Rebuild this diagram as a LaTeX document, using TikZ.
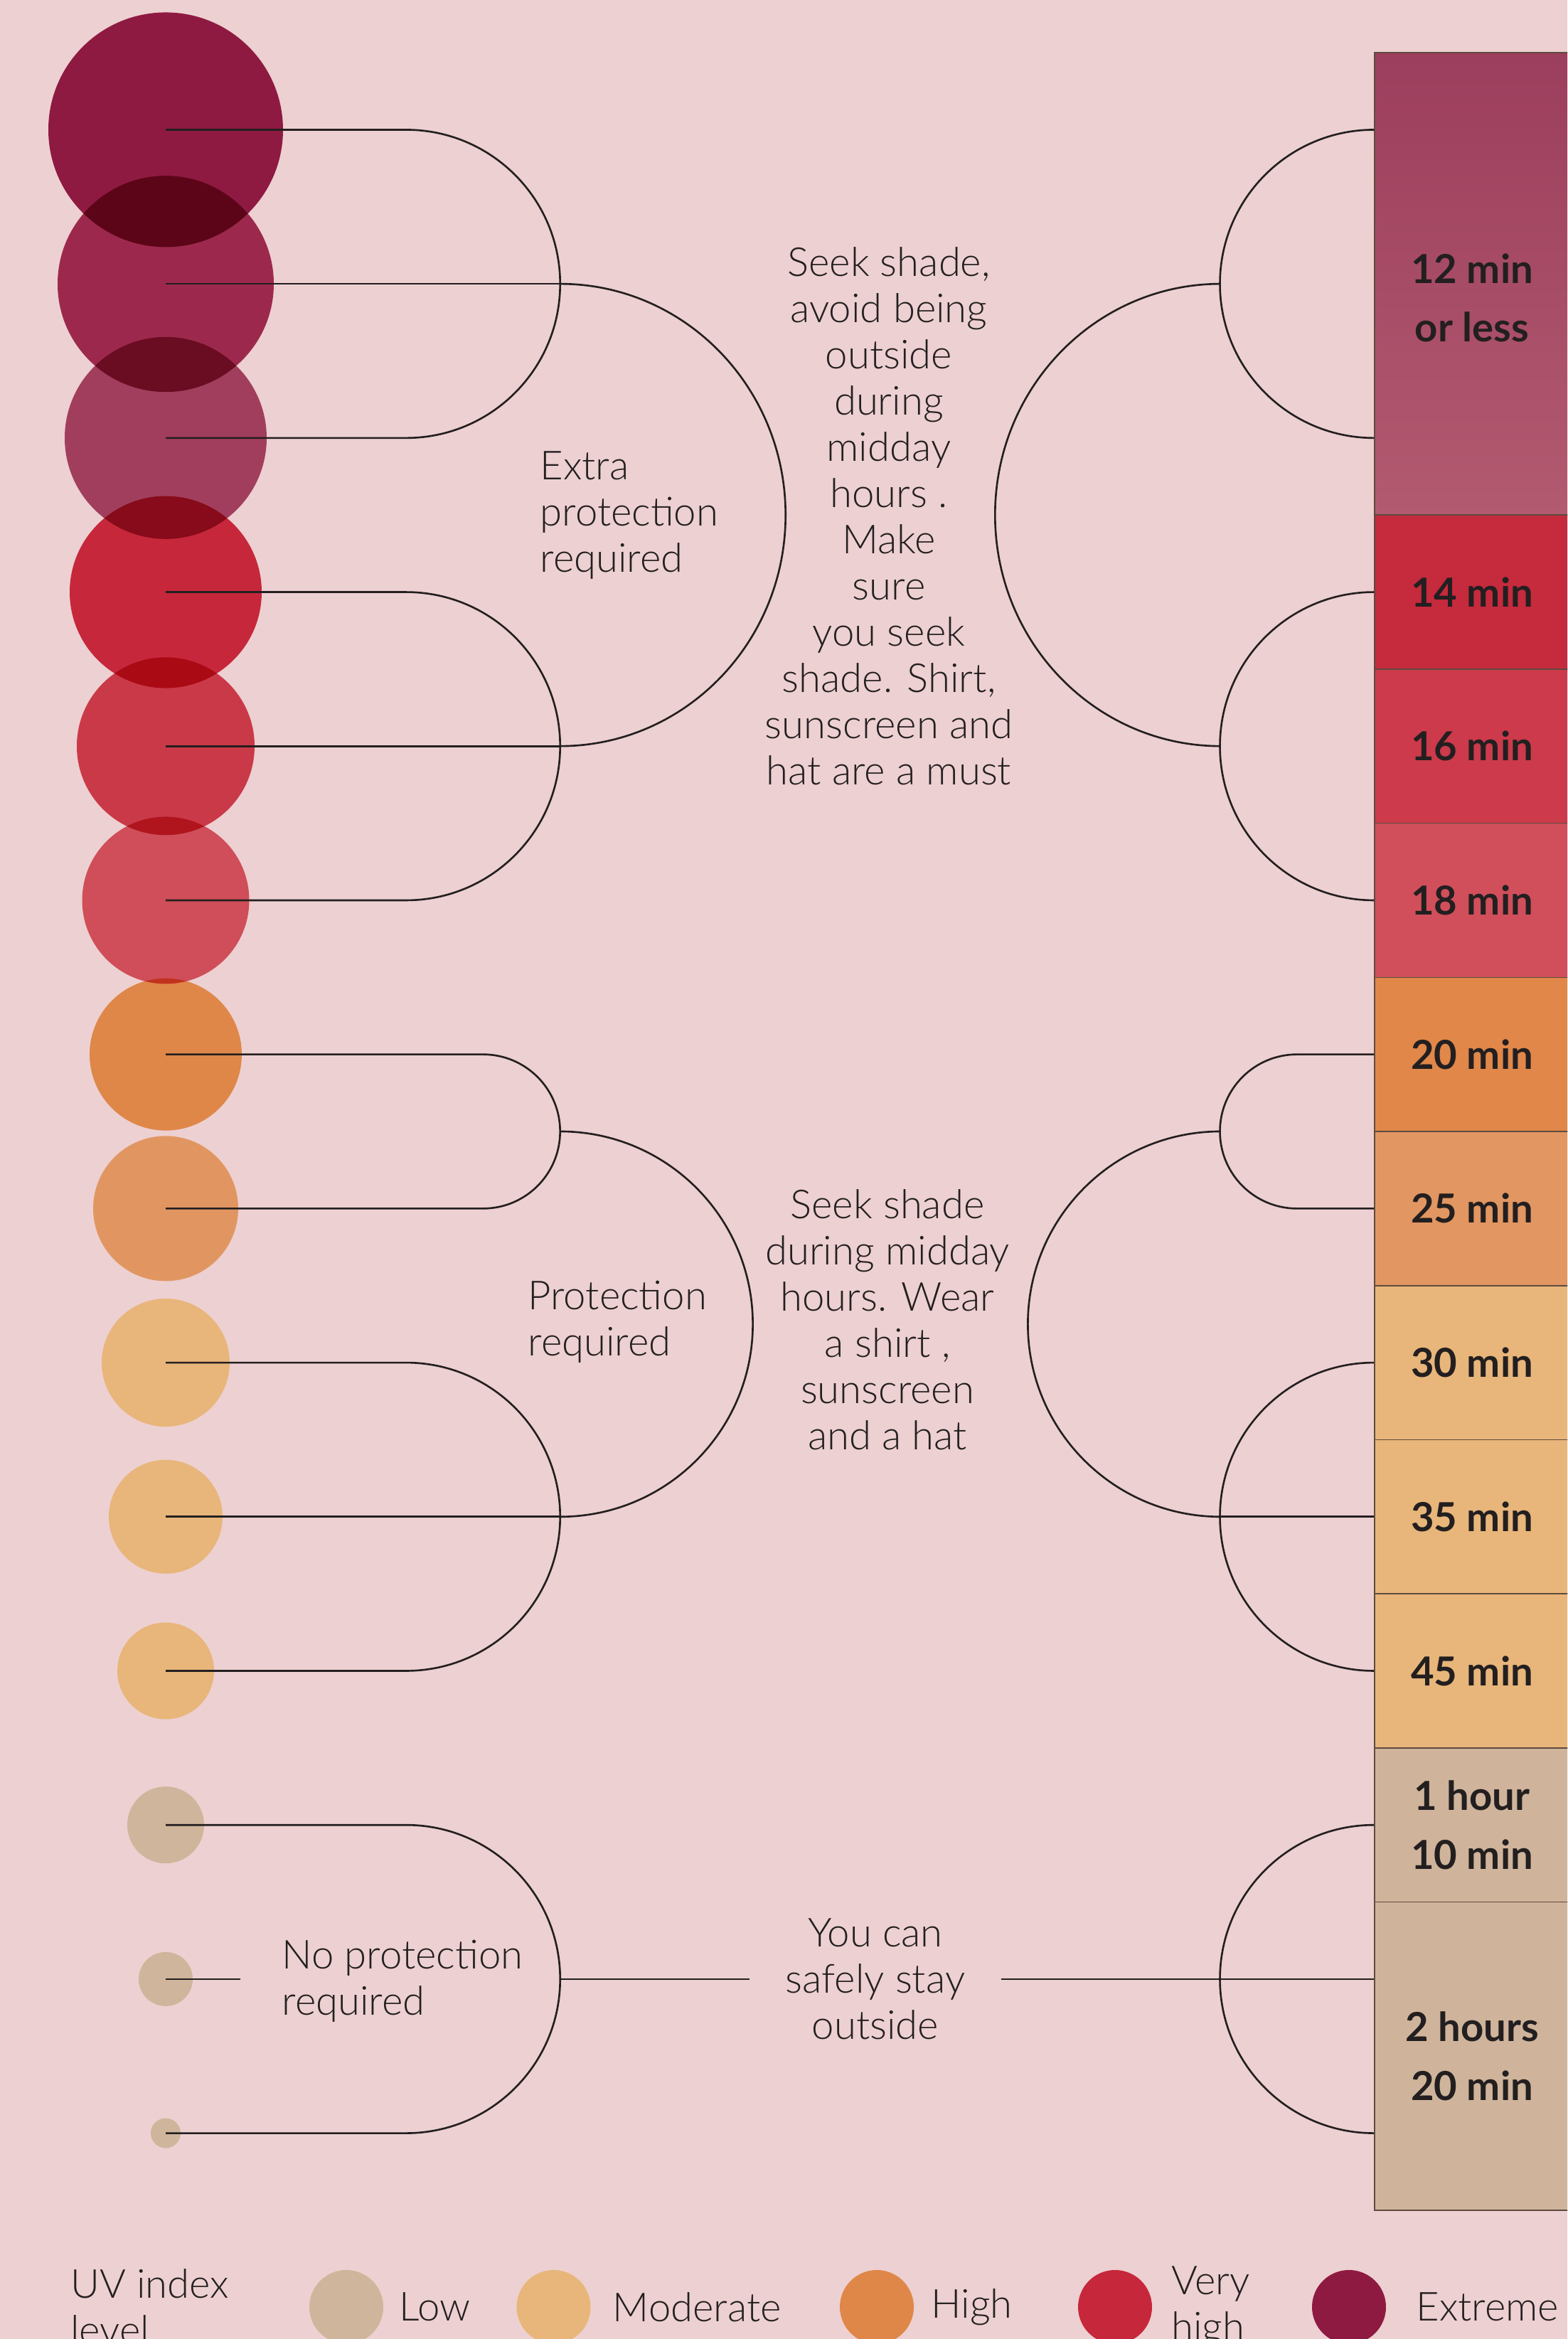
\documentclass[tikz,border=0pt]{standalone}
\usepackage{fontspec}
\setmainfont{Lato}[UprightFont=* Light, BoldFont=* Bold]
\usetikzlibrary{positioning}

\definecolor{paper}{HTML}{EDD0D1}
\definecolor{ink}{HTML}{231F20}
\definecolor{rim}{HTML}{5E4B3F}
% circle inks, multiplied onto the paper
\definecolor{uvx0}{RGB}{153,32,81}
\definecolor{uvx1}{RGB}{168,51,95}
\definecolor{uvx2}{RGB}{174,77,114}
\definecolor{uvv0}{RGB}{214,49,73}
\definecolor{uvv1}{RGB}{218,70,89}
\definecolor{uvv2}{RGB}{223,96,109}
\definecolor{uvh0}{RGB}{241,166,90}
\definecolor{uvh1}{RGB}{243,184,120}
\definecolor{uvm}{RGB}{250,224,149}
\definecolor{uvl}{RGB}{223,222,190}
% bar cells
\definecolor{barxtop}{HTML}{9C3E5D}
\definecolor{barxbot}{HTML}{B25A70}
\definecolor{barv0}{HTML}{C62A3D}
\definecolor{barv1}{HTML}{CC3A4B}
\definecolor{barv2}{HTML}{D04F5B}
\definecolor{barh0}{HTML}{E08749}
\definecolor{barh1}{HTML}{E29661}
\definecolor{barm}{HTML}{E8B67A}
\definecolor{barl}{HTML}{CFB49B}

\begin{document}
\begin{tikzpicture}[
        uvdot/.style={circle, inner sep=0pt, minimum size=#1},
        link/.style={draw=ink, line width=0.75pt},
        note/.style={text=ink, font=\fontsize{16}{18.5}\selectfont, inner sep=0pt},
        bartext/.style={text=ink, font=\bfseries\fontsize{16}{23.5}\selectfont, align=center},
        cell/.style={bartext, rectangle, draw=rim, line width=0.45pt, minimum width=2.74cm, minimum height=2.167cm, inner sep=0pt}
    ]

        \useasboundingbox (0,0) rectangle (22.04,32.89);
        \clip (0,0) rectangle (22.04,32.89);
        \fill[paper] (0,0) rectangle (22.04,32.89);

        % Exposure time bar
        \node[cell, minimum height=6.5cm, top color=barxtop, bottom color=barxbot] (bar12) at (20.70,28.898) {};
        \node[bartext] (lab12) at (20.70,28.70) {12 min\\or less};
        \node[cell, fill=barv0] (bar14) at (20.70,24.564) {14 min};
        \node[cell, fill=barv1] (bar16) at (20.70,22.397) {16 min};
        \node[cell, fill=barv2] (bar18) at (20.70,20.230) {18 min};
        \node[cell, fill=barh0] (bar20) at (20.70,18.063) {20 min};
        \node[cell, fill=barh1] (bar25) at (20.70,15.896) {25 min};
        \node[cell, fill=barm] (bar30) at (20.70,13.729) {30 min};
        \node[cell, fill=barm] (bar35) at (20.70,11.562) {35 min};
        \node[cell, fill=barm] (bar45) at (20.70,9.395) {45 min};
        \node[cell, fill=barl] (bar1h) at (20.70,7.228) {1 hour\\10 min};
        \node[cell, fill=barl, minimum height=4.334cm] (bar2h) at (20.70,3.978) {2 hours\\20 min};

        % UV index circles
        \begin{scope}[blend mode=multiply]
            \node[uvdot=3.30cm, fill=uvx0] (uv0) at (2.33,31.065) {};
            \node[uvdot=3.04cm, fill=uvx1] (uv1) at (2.33,28.898) {};
            \node[uvdot=2.84cm, fill=uvx2] (uv2) at (2.33,26.731) {};
            \node[uvdot=2.70cm, fill=uvv0] (uv3) at (2.33,24.564) {};
            \node[uvdot=2.50cm, fill=uvv1] (uv4) at (2.33,22.397) {};
            \node[uvdot=2.35cm, fill=uvv2] (uv5) at (2.33,20.230) {};
            \node[uvdot=2.14cm, fill=uvh0] (uv6) at (2.33,18.063) {};
            \node[uvdot=2.04cm, fill=uvh1] (uv7) at (2.33,15.896) {};
            \node[uvdot=1.80cm, fill=uvm] (uv8) at (2.33,13.729) {};
            \node[uvdot=1.60cm, fill=uvm] (uv9) at (2.33,11.562) {};
            \node[uvdot=1.36cm, fill=uvm] (uv10) at (2.33,9.395) {};
            \node[uvdot=1.08cm, fill=uvl] (uv11) at (2.33,7.228) {};
            \node[uvdot=0.76cm, fill=uvl] (uv12) at (2.33,5.061) {};
            \node[uvdot=0.42cm, fill=uvl] (uv13) at (2.33,2.894) {};

            % legend dots
            \node[uvdot=1.04cm, fill=uvl] (keylow) at (4.87,0.45) {};
            \node[uvdot=1.04cm, fill=uvm] (keymod) at (7.785,0.45) {};
            \node[uvdot=1.04cm, fill=uvh0] (keyhigh) at (12.33,0.45) {};
            \node[uvdot=1.04cm, fill=uvv0] (keyvhigh) at (15.68,0.45) {};
            \node[uvdot=1.04cm, fill=uvx0] (keyext) at (18.97,0.45) {};
        \end{scope}

        % Texts
        \node[note, anchor=west, align=left] (extra) at (7.59,25.648) {Extra\\protection\\required};
        \node[note, align=center] (advice1) at (12.50,25.63) {Seek shade,\\avoid being\\outside\\during\\midday\\hours .\\Make\\sure\\you seek\\shade. Shirt,\\sunscreen and\\hat are a must};
        \node[note, anchor=west, align=left] (prot) at (7.42,14.30) {Protection\\required};
        \node[note, align=center] (advice2) at (12.48,14.33) {Seek shade\\during midday\\hours. Wear\\a shirt ,\\sunscreen\\and a hat};
        \node[note, anchor=west, align=left] (noprot) at (3.96,5.03) {No protection\\required};
        \node[note, align=center, inner xsep=0.5cm] (safe) at (12.31,5.061) {You can\\safely stay\\outside};

        % Joints
        \coordinate (kxt) at (7.877,28.898);
        \coordinate (khi) at (7.877,16.980);
        \coordinate (kmo) at (7.877,11.562);
        \coordinate (klo) at (7.877,5.061);
        \coordinate (n12) at (3.38,5.061);
        \coordinate (rxt) at (17.163,28.898);
        \coordinate (rhi) at (17.163,16.980);
        \coordinate (rmo) at (17.163,11.562);

        % Left brackets
        \draw[link] (uv0.center) -- ++(3.38,0) arc[start angle=90, end angle=-90, radius=2.167] -- (uv2.center);
        \draw[link] (uv1.center) -- (kxt);
        \draw[link] (uv3.center) -- ++(3.38,0) arc[start angle=90, end angle=-90, radius=2.167] -- (uv5.center);
        \draw[link] (uv4.center) -- ++(5.547,0);
        \draw[link] (kxt) arc[start angle=90, end angle=-90, x radius=3.17, y radius=3.25];

        \draw[link] (uv6.center) -- ++(4.463,0) arc[start angle=90, end angle=-90, radius=1.0835] -- (uv7.center);
        \draw[link] (uv8.center) -- ++(3.38,0) arc[start angle=90, end angle=-90, radius=2.167] -- (uv10.center);
        \draw[link] (uv9.center) -- (kmo);
        \draw[link] (khi) arc[start angle=90, end angle=-90, radius=2.709];

        \draw[link] (uv11.center) -- ++(3.38,0) arc[start angle=90, end angle=-90, radius=2.167] -- (uv13.center);
        \draw[link] (uv12.center) -- (n12);
        \draw[link] (klo) -- (safe.west);
        \draw[link] (safe.east) -- (safe.east -| bar2h.west);

        % Right brackets
        \draw[link] (bar12.west |- uv0.center) arc[start angle=90, end angle=270, radius=2.167];
        \draw[link] (bar14.west) arc[start angle=90, end angle=270, radius=2.167];
        \draw[link] (rxt) arc[start angle=90, end angle=270, x radius=3.17, y radius=3.25];

        \draw[link] (bar20.west) -- ++(-1.0835,0) arc[start angle=90, end angle=270, radius=1.0835] -- (bar25.west);
        \draw[link] (bar30.west) arc[start angle=90, end angle=270, radius=2.167];
        \draw[link] (rmo) -- (bar35.west);
        \draw[link] (rhi) arc[start angle=90, end angle=270, radius=2.709];

        \draw[link] (bar1h.west) arc[start angle=90, end angle=270, radius=2.167];

        % Legend
        \node[note, anchor=west, align=left] (keytitle) at (0.985,0.45) {UV index\\level};
        \node[note, right=0.21cm of keylow] (keylowtxt) {Low};
        \node[note, right=0.30cm of keymod] (keymodtxt) {Moderate};
        \node[note, right=0.23cm of keyhigh] (keyhightxt) {High};
        \node[note, right=0.26cm of keyvhigh, align=left] (keyvhightxt) {Very\\high};
        \node[note, right=0.41cm of keyext] (keyexttxt) {Extreme};

    \end{tikzpicture}
\end{document}
